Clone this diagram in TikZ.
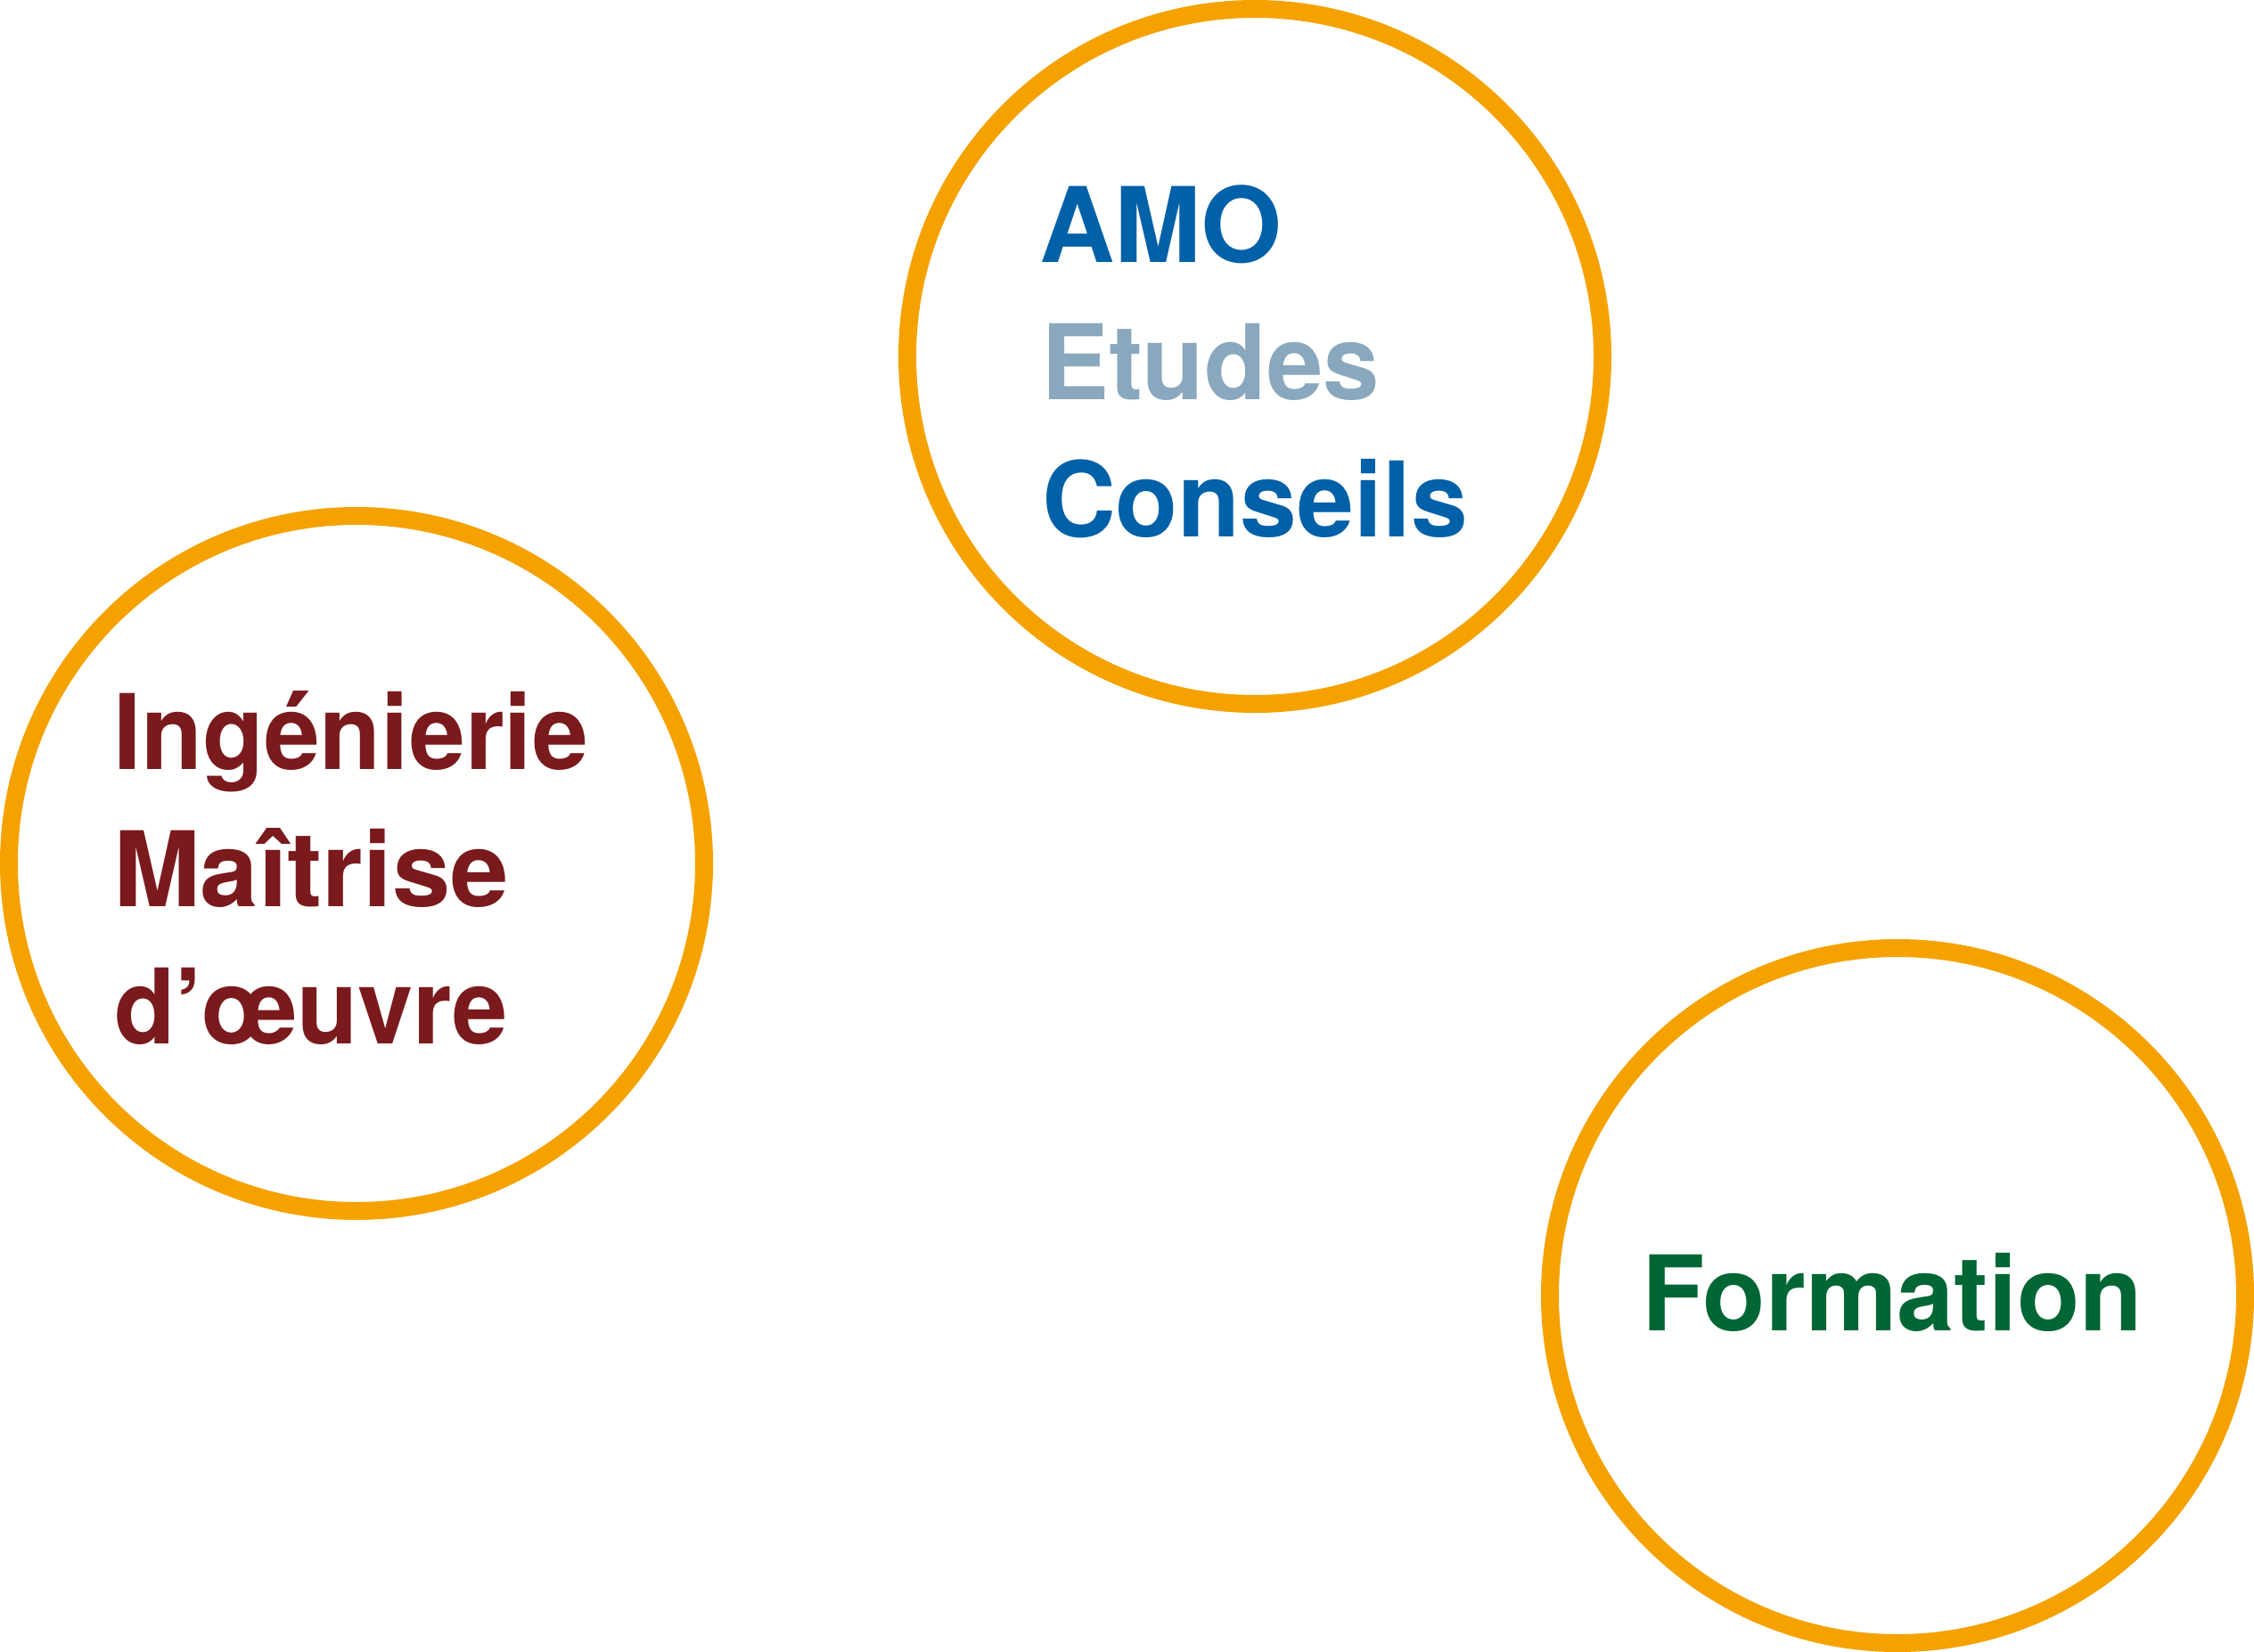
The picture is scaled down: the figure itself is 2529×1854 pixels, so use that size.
\documentclass[tikz,border=0pt]{standalone}
\usepackage{fontspec}
\usepackage{graphicx}
\setmainfont{TeX Gyre Heros}
\definecolor{ringorange}{RGB}{245,162,0}
\definecolor{amoblue}{RGB}{0,96,168}
\definecolor{greyblue}{RGB}{138,168,189}
\definecolor{darkred}{RGB}{122,26,28}
\definecolor{darkgreen}{RGB}{0,102,51}
\tikzset{
  ring/.style={draw=ringorange, line width=20pt},
  label/.style={anchor=base west, inner sep=0pt, outer sep=0pt,
    font=\fontsize{117}{154}\selectfont\bfseries}
}
\newcommand{\fitw}[2]{\resizebox{#1pt}{\height}{#2}}
\begin{document}
\begin{tikzpicture}[x=1pt,y=-1pt]
\useasboundingbox (0,0) rectangle (2529,1854);
\draw[ring] (1408,400) circle[radius=390];
\draw[ring] (400,969) circle[radius=390];
\draw[ring] (2129,1454) circle[radius=390];
% top circle
\node[label, text=amoblue] (amo) at (1166,294) {\fitw{273}{AMO}};
\node[label, text=greyblue] (etudes) at (1168,448) {\fitw{380}{Etudes}};
\node[label, text=amoblue] (conseils) at (1169,602) {\fitw{478}{Conseils}};
% left circle
\node[label, text=darkred] (ing) at (127,863) {\fitw{533}{Ingénierie}};
\node[label, text=darkred] (mait) at (127,1017) {\fitw{444}{Maîtrise}};
\node[label, text=darkred] (oeuvre) at (128,1171) {\fitw{442}{d’œuvre}};
% bottom right
\node[label, text=darkgreen] (formation) at (1842,1493) {\fitw{562}{Formation}};
\end{tikzpicture}
\end{document}
